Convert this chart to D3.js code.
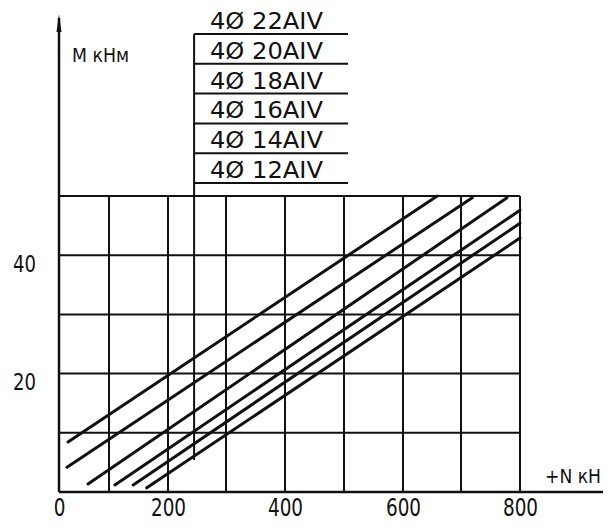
<!DOCTYPE html>
<html>
<head>
<meta charset="utf-8">
<script src="https://cdn.jsdelivr.net/npm/d3@7"></script>
<style>
  html, body { margin: 0; padding: 0; background: #fff; }
  svg { display: block; }
  text { font-family: "DejaVu Sans", "Liberation Sans", sans-serif; fill: #111; }
</style>
</head>
<body>
<svg id="chart" width="611" height="528"></svg>
<script>
// ---- data ----
const barLabels = ["4Ø 22AIV", "4Ø 20AIV", "4Ø 18AIV", "4Ø 16AIV", "4Ø 14AIV", "4Ø 12AIV"];
const barDiameters = [22, 20, 18, 16, 14, 12];
// each line: [N start, M start, N end, M end]  (N in kN, M in kNm)
const line22 = [18, 8.45, 659, 50.0];
const line20 = [16, 4.2, 719, 49.7];
const line18 = [58, 1.35, 778, 49.7];
const line16 = [110, 1.2, 800, 47.6];
const line14 = [141, 1.2, 800, 45.4];
const line12 = [164, 0.7, 800, 42.9];
const xTicks = [0, 200, 400, 600, 800];
const yTicks = [20, 40];
const xGrid = [0, 100, 200, 300, 400, 500, 600, 700, 800];
const yGrid = [0, 10, 20, 30, 40, 50];
const markerN = 245; // vertical reference line through the legend block
const yAxisTitle = "M кНм";
const xAxisTitle = "+N кН";

// ---- scales ----
const x = d3.scaleLinear()
  .domain([0, 100, 200, 300, 400, 500, 600, 700, 800])
  .range([59, 109, 168, 226, 285, 344, 403, 461, 520]);
const y = d3.scaleLinear().domain([0, 50]).range([492, 196]);

const svg = d3.select("#chart");
const ink = "#111";

// grid
svg.append("g").selectAll("line").data(xGrid).join("line")
  .attr("x1", d => x(d)).attr("x2", d => x(d))
  .attr("y1", y(0)).attr("y2", y(50))
  .attr("stroke", ink).attr("stroke-width", 2);
svg.append("g").selectAll("line").data(yGrid).join("line")
  .attr("x1", x(0)).attr("x2", x(800))
  .attr("y1", d => y(d)).attr("y2", d => y(d))
  .attr("stroke", ink).attr("stroke-width", 2);

// legend block
const legX0 = 194, legX1 = 348, legY0 = 34, legStep = 29.8;
svg.append("line")
  .attr("x1", x(markerN)).attr("x2", x(markerN))
  .attr("y1", legY0).attr("y2", 460)
  .attr("stroke", ink).attr("stroke-width", 2);
const leg = svg.append("g");
leg.selectAll("line").data(barLabels).join("line")
  .attr("x1", legX0).attr("x2", legX1)
  .attr("y1", (d, i) => legY0 + i * legStep)
  .attr("y2", (d, i) => legY0 + i * legStep)
  .attr("stroke", ink).attr("stroke-width", 2);
leg.selectAll("text").data(barLabels).join("text")
  .attr("x", 210)
  .attr("y", (d, i) => legY0 + i * legStep - 5)
  .attr("font-size", 23)
  .attr("textLength", 113)
  .attr("lengthAdjust", "spacingAndGlyphs")
  .text(d => d);

// axes lines
svg.append("line").attr("x1", x(0)).attr("x2", 603).attr("y1", y(0)).attr("y2", y(0))
  .attr("stroke", ink).attr("stroke-width", 2.5);
svg.append("line").attr("x1", x(0)).attr("x2", x(0)).attr("y1", 18).attr("y2", y(0))
  .attr("stroke", ink).attr("stroke-width", 2.5);
svg.append("path").attr("d", `M${x(0)},14 L${x(0) - 2.5},32 L${x(0) + 2.5},32 Z`).attr("fill", ink);

// diagonal lines
const lines = [line22, line20, line18, line16, line14, line12];
svg.append("g").selectAll("line").data(lines).join("line")
  .attr("x1", d => x(d[0])).attr("y1", d => y(d[1]))
  .attr("x2", d => x(d[2])).attr("y2", d => y(d[3]))
  .attr("stroke", ink).attr("stroke-width", 3).attr("stroke-linecap", "round");

// x axis tick labels
const gx = svg.append("g").attr("transform", `translate(0,${y(0)})`)
  .call(d3.axisBottom(x).tickValues(xTicks).tickSize(0).tickFormat(d3.format("d")));
gx.select(".domain").remove();
gx.selectAll("text").attr("y", 24).attr("dy", 0).attr("font-size", 24)
  .attr("font-family", null).style("fill", ink)
  .attr("textLength", d => String(d).length * 11.7)
  .attr("lengthAdjust", "spacingAndGlyphs");

// y axis tick labels
const gy = svg.append("g").attr("transform", `translate(36,0)`)
  .call(d3.axisLeft(y).tickValues(yTicks).tickSize(0).tickPadding(0).tickFormat(d3.format("d")));
gy.select(".domain").remove();
gy.selectAll("text").attr("x", 0).attr("dy", 16).attr("font-size", 23)
  .attr("font-family", null).style("fill", ink)
  .attr("textLength", d => String(d).length * 11.5)
  .attr("lengthAdjust", "spacingAndGlyphs");

// axis titles
svg.append("text").attr("x", 72).attr("y", 62).attr("font-size", 19)
  .attr("textLength", 57).attr("lengthAdjust", "spacingAndGlyphs").text(yAxisTitle);
svg.append("text").attr("x", 545).attr("y", 483).attr("font-size", 20)
  .attr("textLength", 56).attr("lengthAdjust", "spacingAndGlyphs").text(xAxisTitle);
</script>
</body>
</html>
